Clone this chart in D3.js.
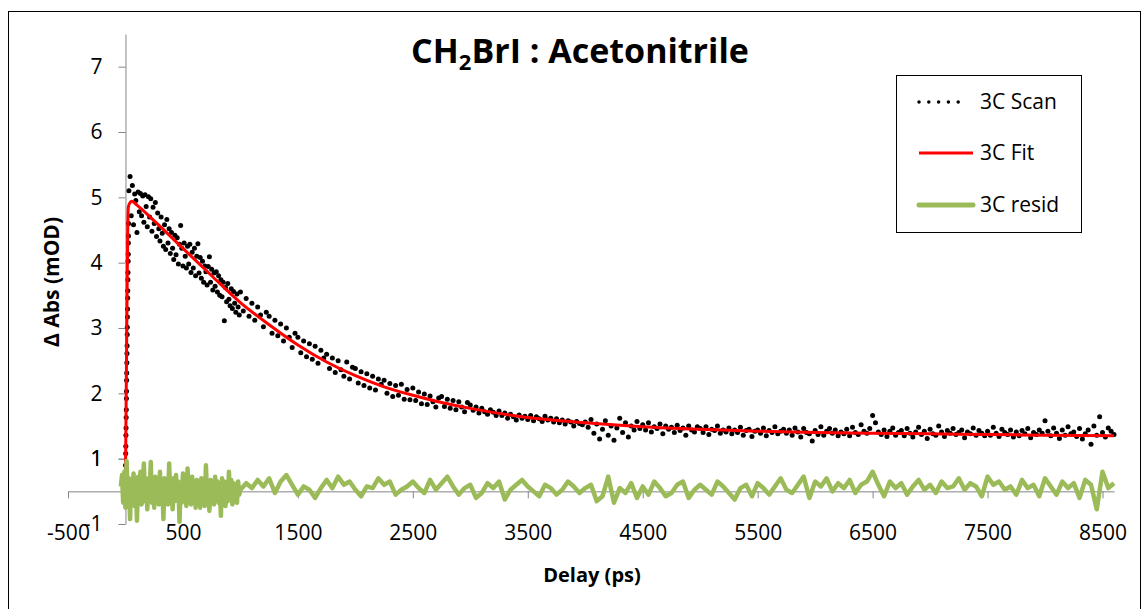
<!DOCTYPE html>
<html>
<head>
<meta charset="utf-8">
<script src="https://cdn.jsdelivr.net/npm/d3@7"></script>
<style>
  body { margin: 0; background: #fff; }
  text { font-family: "Open Sans", "DejaVu Sans", sans-serif; fill: #000; }
</style>
</head>
<body>
<div id="chart"></div>
<script>
// scan: rise (0 ps, 1 ps step), early (30 ps, 10 ps step), late (1000 ps, 25 ps step)
var riseValues = [0.78,0.9,1.08,1.19,1.36,1.47,1.63,1.75,1.92,2.03,2.2,2.31,2.47,2.61,2.73,2.9,3.01,3.17,3.29,3.46,3.57,3.74,3.85,4.02,4.13,4.3,4.41,4.6];
var earlyValues = [
  5.10,5.32,4.72,5.18,4.58,5.05,4.95,4.46,5.08,4.78,
  5.06,4.72,5.02,4.62,5.04,4.86,4.55,5.01,4.70,4.98,
  4.48,4.85,4.60,4.92,4.40,4.76,4.52,4.33,4.70,4.45,
  4.25,4.58,4.20,4.66,4.30,4.52,4.14,4.46,4.22,4.05,
  4.42,4.12,4.38,3.98,4.28,4.57,4.22,3.95,4.30,4.10,
  3.92,4.25,3.98,4.28,3.85,4.16,3.92,4.22,3.80,4.10,
  4.29,3.84,4.08,3.76,4.02,3.70,3.95,3.86,3.66,3.94,
  4.09,3.70,3.90,3.58,3.84,3.64,3.86,3.55,3.80,3.50,
  3.74,3.48,3.70,3.11,3.62,3.40,3.68,3.44,3.34,3.60,
  3.30,3.56,3.38,3.24,3.52,3.32,3.20];
var lateValues = [
  3.55,3.26,3.45,3.18,3.38,3.12,3.32,3.20,3.02,3.24,
  3.18,2.92,3.12,2.88,3.06,2.80,3.00,2.86,2.70,2.92,
  2.86,2.62,2.80,2.56,2.76,2.52,2.72,2.46,2.66,2.54,
  2.60,2.38,2.54,2.32,2.50,2.36,2.26,2.48,2.22,2.40,
  2.38,2.16,2.33,2.12,2.30,2.08,2.26,2.05,2.22,2.14,
  2.20,2.00,2.15,1.95,2.12,1.97,2.14,1.91,2.06,1.90,
  2.08,1.89,2.02,1.84,1.99,1.83,1.96,1.87,1.79,1.93,
  1.95,1.80,1.91,1.77,1.89,1.75,1.87,1.79,1.72,1.86,
  1.82,1.74,1.79,1.70,1.77,1.72,1.68,1.75,1.71,1.66,
  1.73,1.66,1.70,1.62,1.68,1.64,1.59,1.67,1.62,1.65,
  1.60,1.66,1.58,1.64,1.61,1.57,1.65,1.59,1.62,1.56,
  1.61,1.55,1.59,1.53,1.58,1.56,1.50,1.57,1.54,1.52,
  1.56,1.48,1.60,1.39,1.53,1.30,1.45,1.58,1.36,1.50,
  1.28,1.47,1.62,1.40,1.55,1.33,1.50,1.44,1.57,1.46,
  1.52,1.44,1.55,1.41,1.49,1.46,1.53,1.38,1.50,1.45,
  1.48,1.40,1.51,1.43,1.47,1.36,1.50,1.44,1.41,1.49,
  1.46,1.40,1.49,1.37,1.45,1.43,1.50,1.39,1.44,1.41,
  1.47,1.38,1.44,1.40,1.48,1.36,1.43,1.45,1.34,1.42,
  1.44,1.39,1.47,1.35,1.43,1.40,1.49,1.38,1.42,1.45,
  1.39,1.44,1.36,1.47,1.41,1.33,1.46,1.40,1.38,1.27,
  1.43,1.37,1.49,1.36,1.42,1.46,1.39,1.44,1.35,1.41,
  1.38,1.45,1.35,1.48,1.40,1.37,1.52,1.42,1.39,1.46,
  1.66,1.55,1.41,1.37,1.44,1.34,1.42,1.47,1.36,1.40,
  1.43,1.35,1.46,1.39,1.33,1.41,1.48,1.37,1.42,1.31,
  1.45,1.38,1.36,1.50,1.41,1.34,1.43,1.39,1.46,1.37,
  1.40,1.44,1.32,1.41,1.38,1.47,1.36,1.43,1.39,1.35,
  1.42,1.36,1.48,1.39,1.34,1.45,1.40,1.37,1.44,1.33,
  1.41,1.35,1.43,1.38,1.46,1.32,1.40,1.37,1.44,1.39,
  1.58,1.42,1.35,1.47,1.39,1.31,1.44,1.36,1.49,1.38,
  1.41,1.34,1.46,1.30,1.38,1.44,1.22,1.50,1.36,1.64,
  1.40,1.33,1.47,1.42,1.37];

// fit curve
var fitTimes  = [0,5,10,15,20,25,40,55,100,250,500,750,1000,1250,1500,1750,2000,2250,2500,2750,3000,3500,4000,4500,5000,5500,6000,6500,7000,7500,8000,8600];
var fitValues = [0.75,1.7,2.7,3.7,4.55,4.85,4.92,4.94,4.88,4.64,4.22,3.8,3.39,3.05,2.74,2.48,2.27,2.1,1.97,1.86,1.77,1.63,1.55,1.49,1.45,1.42,1.40,1.39,1.38,1.37,1.36,1.35];

// residuals: early (-40 ps, 10 ps step), late (1000 ps, 50 ps step)
var residEarly = [
  0.15,0.5,-0.35,0.6,-0.5,0.93,-0.3,0.4,-0.85,0.35,
  -0.2,0.55,-0.45,0.3,-0.9,0.45,-0.25,0.6,-0.4,0.2,
  0.85,-0.3,0.4,-0.55,0.35,-0.15,0.9,-0.35,0.3,-0.5,
  0.45,-0.1,0.3,-0.4,0.6,-0.25,0.2,-0.85,0.4,-0.2,
  0.35,-0.4,0.85,-0.2,0.3,-0.55,0.4,-0.3,0.5,-0.15,
  0.3,-0.93,0.2,-0.35,0.55,-0.25,0.35,-0.45,0.7,-0.1,
  0.25,-0.4,0.45,-0.3,0.15,-0.5,0.35,-0.2,0.3,-0.5,
  0.4,-0.15,0.3,-0.45,0.8,-0.25,0.2,-0.6,0.35,-0.3,
  0.25,-0.4,0.45,-0.2,0.3,-0.35,0.15,-0.75,0.4,-0.25,
  0.3,-0.45,0.2,-0.3,0.6,-0.2,0.35,-0.4,0.25,-0.3,
  0.2,-0.35,0.3,-0.1,0.05];
var residLate = [
  0.05,0.25,0.1,0.35,0.15,0.4,-0.05,0.3,0.5,0.2,
  -0.1,0.15,0.05,-0.2,0.1,0.35,0.1,0.45,0.2,0.3,
  0.05,-0.15,0.15,0.1,0.4,0.2,0.3,-0.1,0.05,0.15,
  0.3,0.1,-0.05,0.35,0.05,0.25,0.45,0.15,-0.1,0.1,
  0.2,-0.2,-0.05,0.25,0.1,0.3,-0.25,0.05,0.2,0.35,
  0.15,0.0,-0.15,0.2,0.1,-0.1,0.05,0.3,0.15,-0.05,
  0.1,0.2,-0.3,-0.15,0.45,-0.35,0.1,-0.05,0.25,-0.2,
  0.15,-0.1,0.3,0.1,-0.15,-0.05,0.2,0.3,-0.2,0.05,
  0.2,0.05,-0.1,0.3,0.15,-0.05,-0.25,0.1,0.2,-0.15,
  0.25,0.1,-0.1,0.15,0.4,0.05,-0.05,0.2,0.45,-0.2,
  0.3,0.15,0.4,0.0,0.25,0.1,0.35,-0.05,0.2,0.3,
  0.6,0.2,-0.15,0.3,0.1,0.25,-0.1,0.15,0.35,0.05,
  0.2,-0.05,0.3,0.1,0.15,0.4,0.05,0.25,0.15,-0.15,
  0.45,0.2,0.3,0.05,0.15,-0.1,0.35,0.1,0.2,-0.15,
  0.4,0.15,-0.1,0.3,0.1,0.25,-0.2,0.35,0.2,-0.55,
  0.6,0.1,0.25];

// axis ticks
var xTicks = [-500,500,1500,2500,3500,4500,5500,6500,7500,8500];
var yTicks = [1,2,3,4,5,6,7];
var residTicks = [-1,1];
var legendNames = ["3C Scan","3C Fit","3C resid"];

function seg(t0, step, vals) {
  return vals.map(function(v, i) { return {t: t0 + i * step, v: v}; });
}

var scan = seg(0, 1, riseValues).concat(seg(30, 10, earlyValues), seg(1000, 25, lateValues));
var fit = fitTimes.map(function(t, i) { return {t: t, v: fitValues[i]}; });
var resid = seg(-40, 10, residEarly).concat(seg(1000, 50, residLate));

var W = 1143, H = 609;
var axisColor = "#868686";
var plain = function(d) { return String(d); };

var svg = d3.select("#chart").append("svg")
    .attr("width", W)
    .attr("height", H);

// chart frame
svg.append("rect")
    .attr("x", 8.5).attr("y", 11.5)
    .attr("width", 1132).attr("height", 620)
    .attr("fill", "none").attr("stroke", "#000").attr("stroke-width", 1);

// scales
var x = d3.scaleLinear().domain([-500, 8600]).range([68, 1114]);
var y = d3.scaleLinear().domain([0, 7.5]).range([524, 34]);
var yr = d3.scaleLinear().domain([-1, 1]).range([524, 458.7]);

// y axis (primary)
var gy = svg.append("g")
    .attr("transform", "translate(" + x(0) + ",0)")
    .call(d3.axisLeft(y).tickValues(yTicks).tickSize(7).tickSizeOuter(0).tickFormat(plain));
// resid axis shares the same line
var gyr = svg.append("g")
    .attr("transform", "translate(" + x(0) + ",0)")
    .call(d3.axisLeft(yr).tickValues(residTicks).tickSize(7).tickSizeOuter(0).tickFormat(plain));
gyr.select(".domain").remove();

[gy, gyr].forEach(function(g) {
  g.selectAll(".domain, .tick line").attr("stroke", axisColor);
  g.selectAll(".tick text")
      .attr("x", -23)
      .style("font-size", "21px")
      .style("font-family", "'Open Sans', sans-serif");
});

// x axis sits on resid zero, labels at the bottom
var gx = svg.append("g")
    .attr("transform", "translate(0," + yr(0) + ")")
    .call(d3.axisBottom(x).tickValues(xTicks).tickSize(7).tickSizeOuter(0).tickFormat(plain));
gx.selectAll(".domain, .tick line").attr("stroke", axisColor);
gx.selectAll(".tick text")
    .attr("y", 34)
    .style("font-size", "21px")
    .style("font-family", "'Open Sans', sans-serif");

// scan dots
svg.append("g").selectAll("circle")
    .data(scan)
  .enter().append("circle")
    .attr("cx", function(d) { return x(d.t); })
    .attr("cy", function(d) { return y(d.v); })
    .attr("r", 2.5)
    .attr("fill", "#000");

// fit line
var fitLine = d3.line()
    .x(function(d) { return x(d.t); })
    .y(function(d) { return y(d.v); })
    .curve(d3.curveMonotoneX);

svg.append("path")
    .datum(fit)
    .attr("d", fitLine)
    .attr("fill", "none")
    .attr("stroke", "#ff0000")
    .attr("stroke-width", 3);

// residual line
var residLine = d3.line()
    .x(function(d) { return x(d.t); })
    .y(function(d) { return yr(d.v); });

svg.append("path")
    .datum(resid)
    .attr("d", residLine)
    .attr("fill", "none")
    .attr("stroke", "#9bbb59")
    .attr("stroke-width", 4.5)
    .attr("stroke-linejoin", "round");

// title
var title = svg.append("text")
    .attr("x", 580).attr("y", 63)
    .attr("text-anchor", "middle")
    .style("font-size", "34px")
    .style("font-weight", "bold");
title.append("tspan").text("CH");
title.append("tspan").attr("dy", 7).style("font-size", "22px").text("2");
title.append("tspan").attr("dy", -7).text("BrI : Acetonitrile");

// axis titles
svg.append("text")
    .attr("x", 592).attr("y", 582)
    .attr("text-anchor", "middle")
    .style("font-size", "20px")
    .style("font-weight", "bold")
    .text("Delay (ps)");

svg.append("text")
    .attr("transform", "translate(59,282) rotate(-90)")
    .attr("text-anchor", "middle")
    .style("font-size", "21px")
    .style("font-weight", "bold")
    .text("\u0394 Abs (mOD)");

// legend
var legend = svg.append("g");
legend.append("rect")
    .attr("x", 896.5).attr("y", 75.5)
    .attr("width", 185).attr("height", 157)
    .attr("fill", "#fff").attr("stroke", "#000").attr("stroke-width", 1);

var legendY = [102, 153, 205];
legendNames.forEach(function(name, i) {
  var ly = legendY[i];
  var line = legend.append("line")
      .attr("x1", 919).attr("x2", 973)
      .attr("y1", ly).attr("y2", ly);
  if (i === 0) {
    line.attr("x2", 968).attr("stroke", "#000").attr("stroke-width", 3.5)
        .attr("stroke-linecap", "round").attr("stroke-dasharray", "0,9.8");
  } else if (i === 1) {
    line.attr("stroke", "#ff0000").attr("stroke-width", 3);
  } else {
    line.attr("stroke", "#9bbb59").attr("stroke-width", 5).attr("stroke-linecap", "round");
  }
  legend.append("text")
      .attr("x", 980).attr("y", ly)
      .attr("dy", "0.35em")
      .style("font-size", "21px")
      .text(name);
});
</script>
</body>
</html>
